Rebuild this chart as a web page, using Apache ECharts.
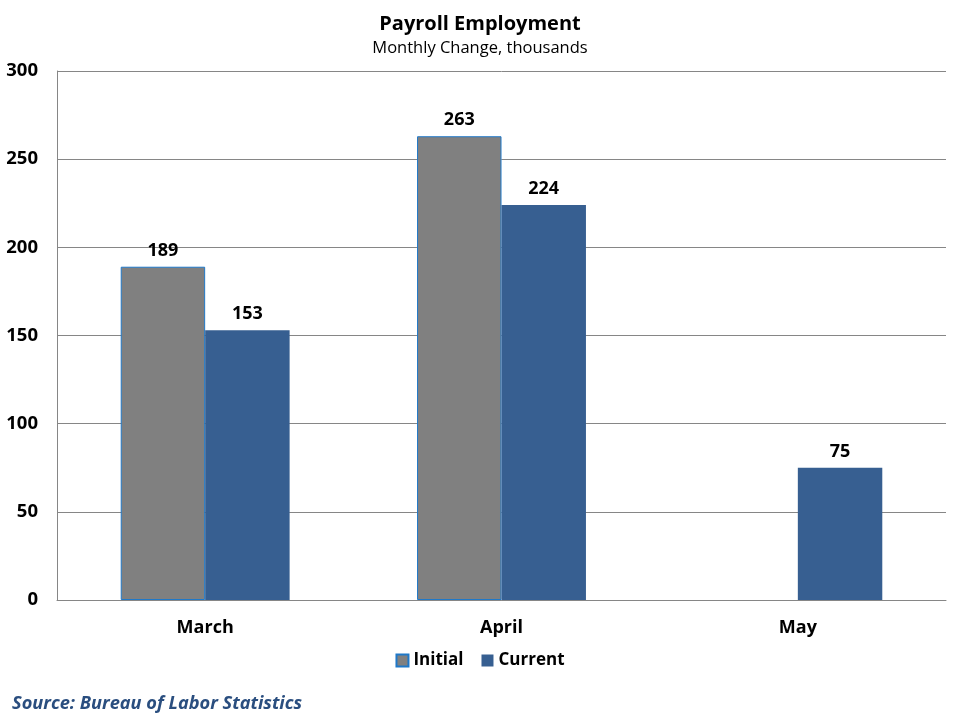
<!DOCTYPE html>
<html>
<head>
<meta charset="utf-8">
<script src="https://cdn.jsdelivr.net/npm/echarts@6/dist/echarts.min.js"></script>
<style>html,body{margin:0;padding:0;background:#fff}#c{width:960px;height:720px}</style>
</head>
<body>
<div id="c"></div>
<script>
const categories = ['March', 'April', 'May'];
const initialValues = [189, 263, null];
const currentValues = [153, 224, 75];
const yTicks = [0, 50, 100, 150, 200, 250, 300];

const FONT = '"Open Sans", "Noto Sans", sans-serif';
const chart = echarts.init(document.getElementById('c'));
chart.setOption({
  animation: false,
  backgroundColor: '#fff',
  title: [
    { text: 'Payroll Employment', left: 'center', top: 9,
      textStyle: { fontFamily: FONT, fontSize: 20, fontWeight: 'bold', color: '#000' } },
    { text: 'Monthly Change, thousands', left: 'center', top: 35,
      textStyle: { fontFamily: FONT, fontSize: 16.5, fontWeight: 'normal', color: '#000' } },
    { text: 'Source: Bureau of Labor Statistics', left: 7, top: 690,
      textStyle: { fontFamily: FONT, fontSize: 18.2, fontWeight: 'bold', fontStyle: 'italic', color: '#2A4E7F' } }
  ],
  legend: {
    data: ['Initial', 'Current'], left: 'center', top: 647, icon: 'rect',
    itemWidth: 12, itemHeight: 12, itemGap: 18,
    textStyle: { fontFamily: FONT, fontSize: 17, fontWeight: 'bold', color: '#000' }
  },
  grid: { left: 57, right: 14, top: 71, bottom: 120, containLabel: false },
  xAxis: {
    type: 'category', data: categories,
    axisLine: { show: true, lineStyle: { color: '#868686', width: 1 } },
    axisTick: { show: false },
    axisLabel: { fontFamily: FONT, fontSize: 18, fontWeight: 'bold', color: '#000', margin: 19 }
  },
  yAxis: {
    type: 'value', min: 0, max: 300, interval: 50,
    axisLine: { show: true, lineStyle: { color: '#868686', width: 1 } },
    axisTick: { show: false },
    splitLine: { show: true, lineStyle: { color: '#868686', width: 1 } },
    axisLabel: { fontFamily: FONT, fontSize: 18.5, fontWeight: 'bold', color: '#000', margin: 19,
      formatter: v => yTicks.includes(v) ? String(v) : '' }
  },
  series: [
    { name: 'Initial', type: 'bar', data: initialValues, barGap: '0%', barCategoryGap: '43%',
      itemStyle: { color: '#808080', borderColor: '#1F78C8', borderWidth: 1 },
      label: { show: true, position: 'top', distance: 7, fontFamily: FONT, fontSize: 18, fontWeight: 'bold', color: '#000' } },
    { name: 'Current', type: 'bar', data: currentValues,
      itemStyle: { color: '#375F91' },
      label: { show: true, position: 'top', distance: 7, fontFamily: FONT, fontSize: 18, fontWeight: 'bold', color: '#000' } }
  ]
});
</script>
</body>
</html>
